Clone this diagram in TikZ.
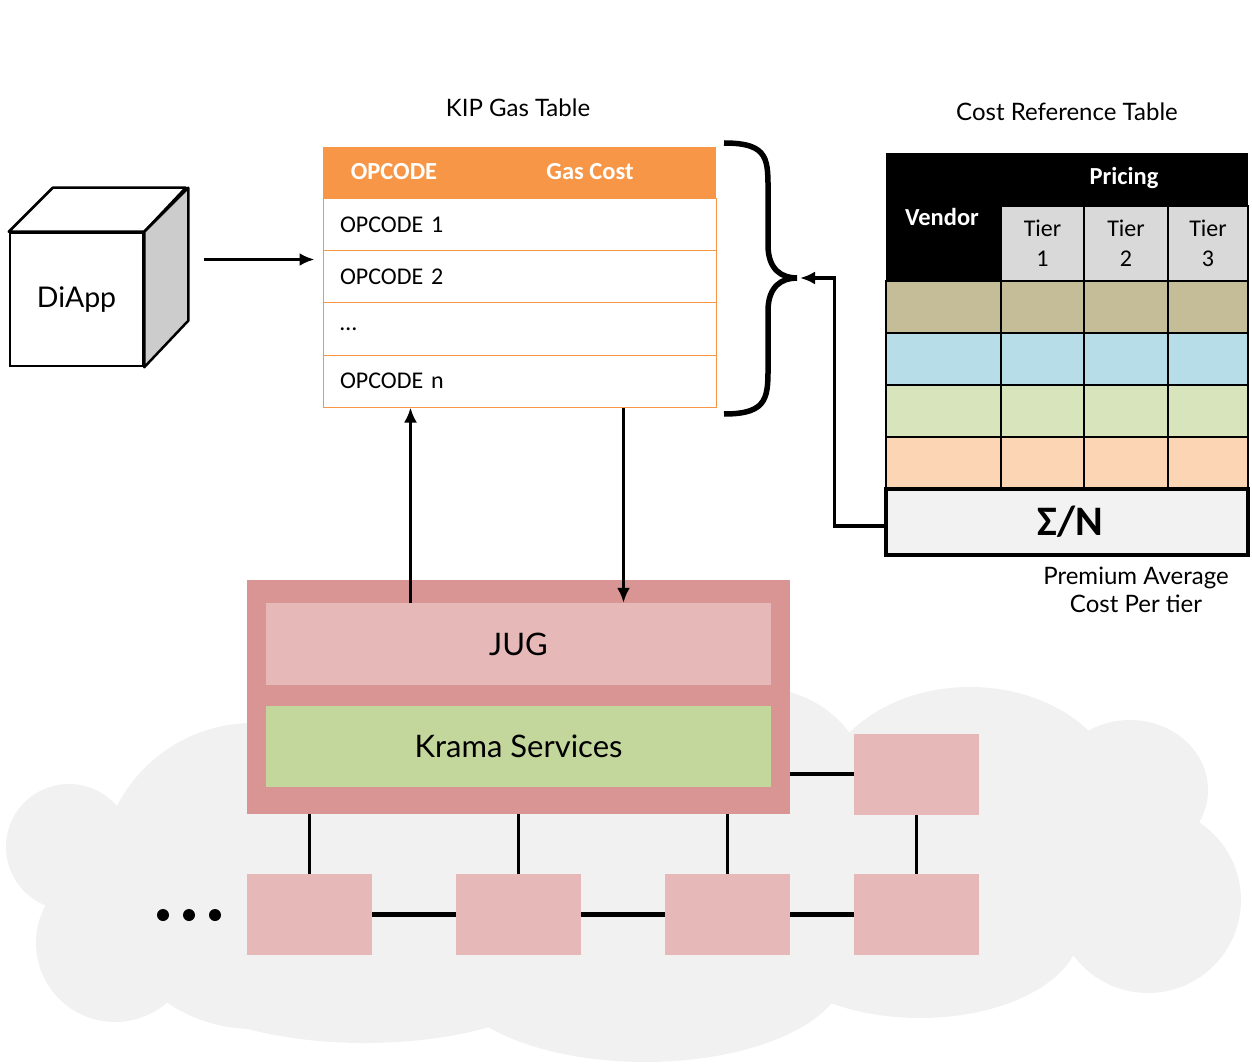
\documentclass[tikz,border=0pt]{standalone}
\usepackage{fontspec}
\setmainfont{Lato}
\newfontfamily\calibfont{Carlito}
\usetikzlibrary{positioning,arrows.meta}

\definecolor{gasorange}{HTML}{F79646}
\definecolor{jugouter}{HTML}{D99594}
\definecolor{jugpink}{HTML}{E6B8B7}
\definecolor{kramagreen}{HTML}{C3D69B}
\definecolor{cloudgray}{HTML}{F1F1F1}
\definecolor{cubegray}{HTML}{CCCCCC}
\definecolor{tiergray}{HTML}{D9D9D9}
\definecolor{rowtan}{HTML}{C4BD97}
\definecolor{rowblue}{HTML}{B7DEE8}
\definecolor{rowgreen}{HTML}{D7E4BC}
\definecolor{rowpeach}{HTML}{FCD5B5}
\definecolor{sumgray}{HTML}{F2F2F2}

\begin{document}
\begin{tikzpicture}[x=1pt, y=-1pt,
    flow/.style={-{Latex[length=15pt,width=13pt]}, line width=3.5pt},
    peer/.style={fill=jugpink, minimum width=125pt, minimum height=81pt, inner sep=0pt},
    layer/.style={minimum width=505pt, minimum height=82pt, inner sep=0pt, font=\fontsize{31}{34}\selectfont},
    gasrow/.style={draw=gasorange, line width=1pt, fill=white, minimum height=52pt, text width=359pt,
                   inner xsep=17pt, inner ysep=0pt, align=left, font=\calibfont\fontsize{24}{28}\selectfont},
    headtext/.style={text=white, font=\calibfont\bfseries\fontsize{24.5}{28}\selectfont},
    pricecell/.style={draw=black, line width=2.5pt},
    label/.style={font=\fontsize{24}{28}\selectfont}]
        \useasboundingbox (0,0) rectangle (1252,1064);

        % cloud
        \foreach \cx/\cy/\rx/\ry in {69/847/63/63, 115/943/79/79, 253/876/153/153, 365/952/220/91,
                                      645/970/200/92, 920/930/160/88, 1148/900/93/93, 1130/790/78/70,
                                      970/800/150/113, 760/800/112/112} {
          \fill[cloudgray] (\cx,\cy) ellipse [x radius=\rx pt, y radius=\ry pt];
        }
        \fill[cloudgray] (200,800) -- (1090,800) -- (1100,900) -- (1060,940) -- (200,990) -- cycle;

        % DiApp cube
        \node[draw, line width=2.5pt, fill=white, minimum size=133pt, inner sep=0pt,
              font=\fontsize{28.5}{32}\selectfont] (diapp) at (76.5,299.5) {DiApp};
        \draw[line width=2.5pt, fill=white, line join=round] (diapp.north west) -- ++(44,-44) -- ++(133,0) -- (diapp.north east) -- cycle;
        \draw[line width=2.5pt, fill=cubegray, line join=round] (diapp.north east) -- ++(44,-44) -- ++(0,133) -- (diapp.south east) -- cycle;

        % KIP gas table
        \node[label] (gastitle) at (518,108) {KIP Gas Table};
        \node[fill=gasorange, minimum width=393pt, minimum height=52pt, inner sep=0pt] (gashead) at (519.5,173) {};
        \node[headtext] at (394,172) {OPCODE};
        \node[headtext] at (590,172) {Gas Cost};
        \foreach \t [count=\i] in {OPCODE 1, OPCODE 2, \ldots, OPCODE n} {
          \node[gasrow] (op\i) at (519.5,173+52*\i) {\t};
        }

        \coordinate (dapp) at ([shift={(60pt,40pt)}]diapp.east);
        \draw[flow, shorten >=8pt] (dapp) -- (dapp -| op2.west);

        % brace
        \draw[line width=5.5pt] (724,143) .. controls (770,143) and (768,160) .. (768,195) -- (768,245)
              .. controls (768,270) and (782,278) .. (797,278)
              .. controls (782,278) and (768,286) .. (768,311) -- (768,361)
              .. controls (768,396) and (770,414) .. (724,414);
        \coordinate (bracetip) at (800,278);

        % cost reference table
        \node[label] (pricetitle) at (1067,112) {Cost Reference Table};
        \fill[black] (886,153) rectangle (1248,281);
        \node[headtext] (vendor) at (942,217) {Vendor};
        \node[headtext] (pricing) at (1124,178) {Pricing};
        \foreach \x/\w/\n in {1001/83/1, 1084/84/2, 1168/80/3} {
          \draw[pricecell, fill=tiergray] (\x,206) rectangle ++(\w,75);
          \node[align=center, font=\calibfont\fontsize{24}{30}\selectfont] at (\x+\w/2,243.5) {Tier\\\n};
        }
        \foreach \c [count=\i] in {rowtan,rowblue,rowgreen,rowpeach} {
          \foreach \xa/\xb in {886/1001,1001/1084,1084/1168,1168/1248} {
            \draw[pricecell, fill=\c] (\xa,229+52*\i) rectangle (\xb,281+52*\i);
          }
        }
        \node[draw, line width=3.5pt, fill=sumgray, minimum width=362pt, minimum height=66pt, inner sep=0pt,
              font=\calibfont\bfseries\fontsize{42}{46}\selectfont] (sum) at (1067,522) {\hspace{6pt}Σ/N};
        \node[label, align=center] (sumcap) at (1136,590) {Premium Average\\Cost Per tier};

        \draw[flow] ([yshift=-4pt]sum.west) -- ++(-50,0) |- (bracetip);

        % JUG host
        \node[fill=jugouter, minimum width=543pt, minimum height=234pt, inner sep=0pt] (host) at (518.5,697) {};
        \node[layer, fill=jugpink] (jug) at (518.5,644) {JUG};
        \node[layer, fill=kramagreen, minimum height=81pt] (krama) at (518.5,746.5) {Krama Services};

        \coordinate (upx) at ([xshift=88pt]op4.south west);
        \coordinate (downx) at ([xshift=301pt]op4.south west);
        \draw[flow] (jug.north -| upx) -- (upx);
        \draw[flow] (downx) -- (jug.north -| downx);

        % peers
        \node[peer] (p1) at (309.5,914.5) {};
        \node[peer] (p2) at (518.5,914.5) {};
        \node[peer] (p3) at (727.5,914.5) {};
        \node[peer] (p4) at (916.5,914.5) {};
        \node[peer] (p5) at (916.5,774) {};

        \draw[line width=4.5pt] (p1) -- (p2) -- (p3) -- (p4);
        \foreach \p in {p1,p2,p3} {
          \draw[line width=3pt] (\p.north) -- (\p.north |- host.south);
        }
        \draw[line width=3pt] (p4) -- (p5);
        \draw[line width=4pt] (host.east |- p5) -- (p5.west);

        \foreach \x in {163,189,215} {
          \fill (\x,915) circle (6pt);
        }
\end{tikzpicture}
\end{document}
